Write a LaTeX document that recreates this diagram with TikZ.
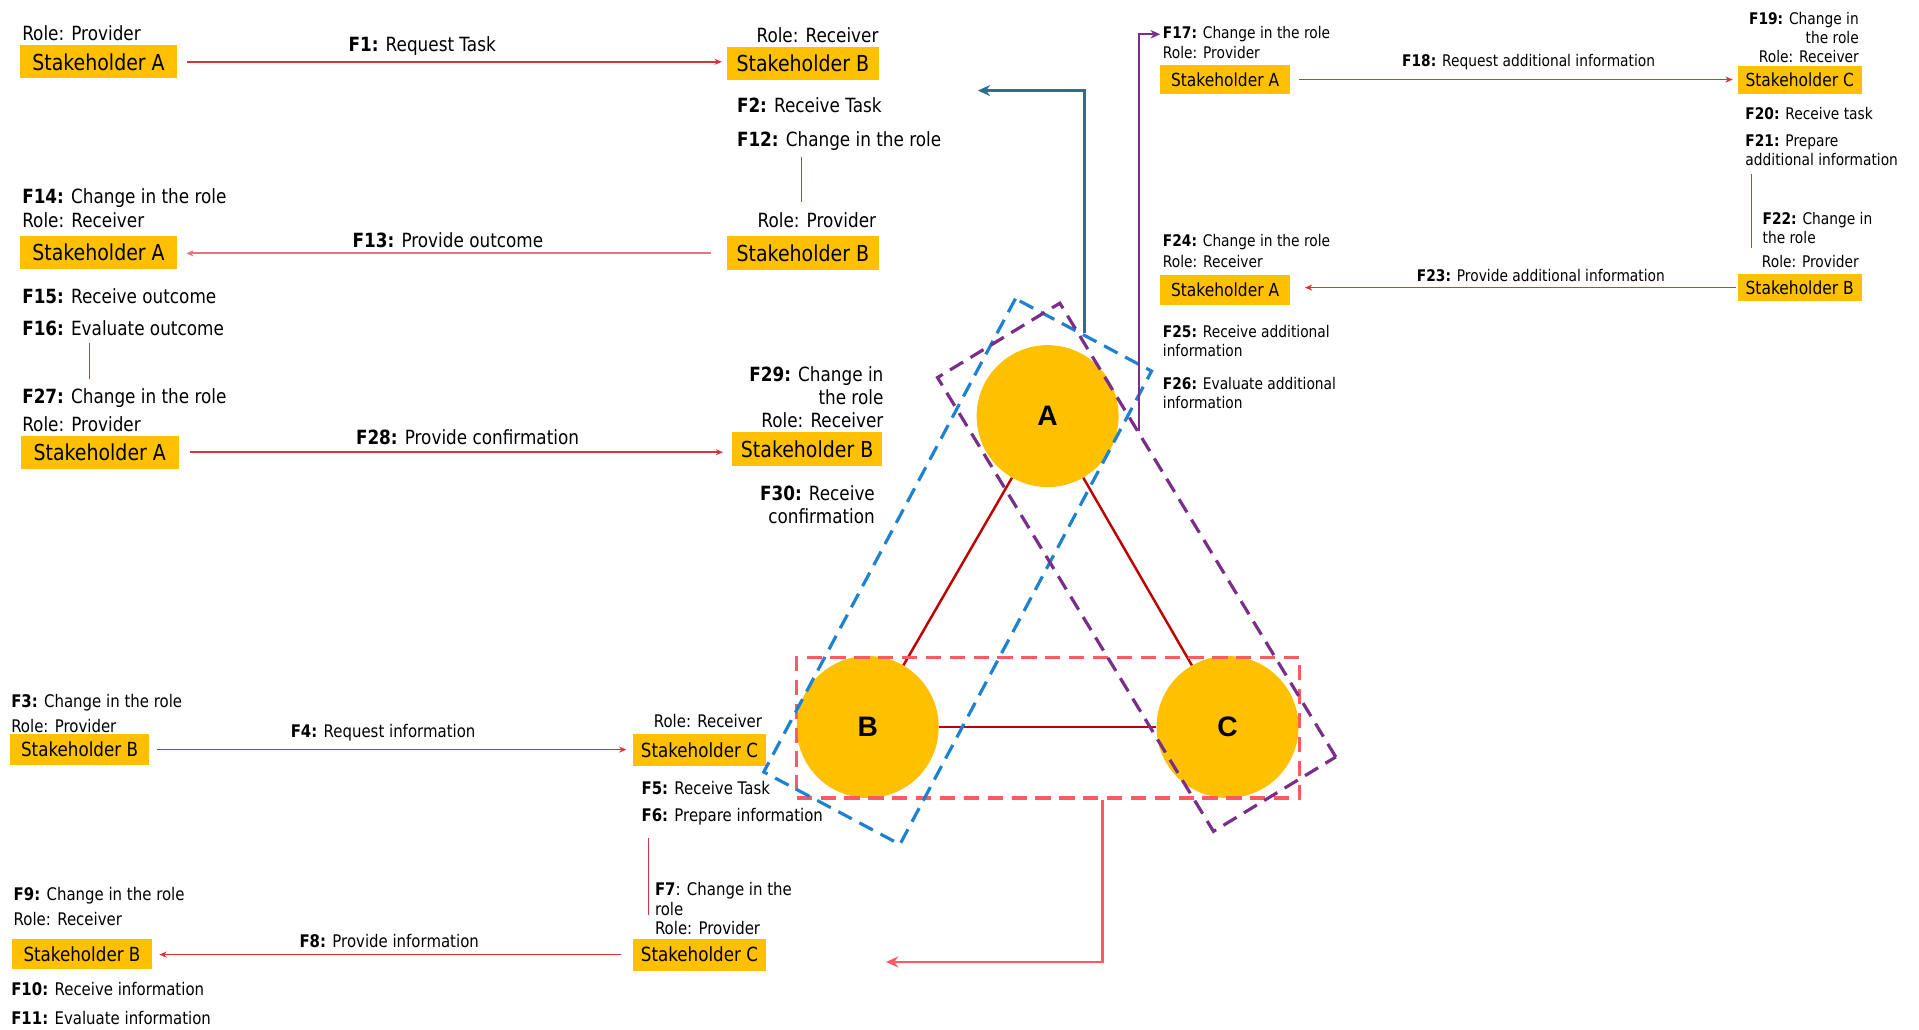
\documentclass[tikz,border=0pt]{standalone}
\usepackage{fontspec}
\setmainfont{DejaVu Sans}[FakeStretch=0.86]
\newfontfamily\letterfont{Liberation Sans}
\usetikzlibrary{arrows.meta,calc}
\definecolor{ybox}{HTML}{FFC000}
\definecolor{farr}{HTML}{D9343C}
\definecolor{farrlight}{HTML}{E6767C}
\definecolor{trired}{HTML}{C00000}
\definecolor{grpred}{HTML}{FF5A5F}
\definecolor{grpblue}{HTML}{1F82CF}
\definecolor{grppurple}{HTML}{7A2E8A}
\definecolor{tealc}{HTML}{2C6E8E}
\begin{document}
\begin{tikzpicture}[x=1pt,y=-1pt,
  sbox/.style={fill=ybox, inner sep=0pt, text=black},
  boxL/.style={sbox, minimum width=129pt, minimum height=27pt, font=\fontsize{18}{20}\selectfont},
  boxM/.style={sbox, minimum width=114pt, minimum height=25pt, font=\fontsize{15.9}{18}\selectfont},
  boxS/.style={sbox, minimum width=104pt, minimum height=23pt, font=\fontsize{14.7}{17}\selectfont},
  txtL/.style={inner sep=0pt, font=\fontsize{16}{18.7}\selectfont},
  txtM/.style={inner sep=0pt, font=\fontsize{14.2}{17}\selectfont},
  txtS/.style={inner sep=0pt, font=\fontsize{13.1}{15.5}\selectfont},
  farrow/.style={draw=farr, line width=1.4pt, -{Stealth[length=6pt,width=5pt]}},
  vlink/.style={draw=farr, line width=1.2pt},
  circ/.style={circle, fill=ybox, minimum size=116pt, inner sep=0pt, font=\letterfont\bfseries\fontsize{23}{23}\selectfont},
  triline/.style={draw=trired, line width=2pt},
  grp/.style={draw, line width=2.6pt, dash pattern=on 12.5pt off 7pt, inner sep=0pt},
]
\useasboundingbox (0,0) rectangle (1568,841);

% ---------- top-left: A -> B ----------
\node[txtL, anchor=west] (rp1) at (18,27) {Role: Provider};
\node[boxL] (sA1) at (80.5,50.5) {Stakeholder A};
\node[txtL] (lf1) at (345,38) {\textbf{F1:} Request Task};
\node[txtL, anchor=east] (rr1) at (718,29) {Role: Receiver};
\node[boxL, minimum width=124pt] (sB1) at (656,51.5) {Stakeholder B};
\draw[farrow, shorten <=8pt, shorten >=4pt] (sA1.east) -- (sA1.east -| sB1.west);
\node[txtL, anchor=west] (f2) at (602,86) {\textbf{F2:} Receive Task};
\node[txtL, anchor=west] (f12) at (602,115) {\textbf{F12:} Change in the role};
\coordinate (v1a) at (655,128); \coordinate (v1b) at (655,165);
\draw[vlink] (v1a) -- (v1b);
\node[txtL, anchor=east] (rp2) at (716,180) {Role: Provider};
\node[boxL, minimum width=124pt, minimum height=28pt] (sB2) at (656,207) {Stakeholder B};
\node[txtL] (lf13) at (366,196) {\textbf{F13:} Provide outcome};
\node[txtL, anchor=west] (f14) at (18,162) {\textbf{F14:} Change in the role};
\node[txtL, anchor=west] (rr2) at (18,180) {Role: Receiver};
\node[boxL] (sA2) at (80.5,206.5) {Stakeholder A};
\draw[farrow, draw=farrlight, shorten <=13pt, shorten >=7pt] (sB2.west) -- (sB2.west -| sA2.east);
\node[txtL, anchor=west] (f15) at (18,242) {\textbf{F15:} Receive outcome};
\node[txtL, anchor=west] (f16) at (18,268) {\textbf{F16:} Evaluate outcome};
\coordinate (v2a) at (73,280); \coordinate (v2b) at (73,310);
\draw[vlink] (v2a) -- (v2b);
\node[txtL, anchor=west] (f27) at (18,325) {\textbf{F27:} Change in the role};
\node[txtL, anchor=west] (rp3) at (18,347) {Role: Provider};
\node[boxL] (sA3) at (81.5,369.5) {Stakeholder A};
\node[txtL] (lf28) at (382,357) {\textbf{F28:} Provide confirmation};
\node[txtL, anchor=east, align=right] (f29) at (722,324.5) {\textbf{F29:} Change in\\the role\\Role: Receiver};
\node[boxL, minimum width=123pt, minimum height=28pt] (sB3) at (659.5,367) {Stakeholder B};
\draw[farrow, shorten <=9pt, shorten >=7pt] (sA3.east) -- (sA3.east -| sB3.west);
\node[txtL, anchor=east, align=right] (f30) at (715,412.5) {\textbf{F30:} Receive\\confirmation};

% ---------- middle-left: B -> C ----------
\node[txtM, anchor=west] (f3) at (9,574) {\textbf{F3:} Change in the role};
\node[txtM, anchor=west] (rp4) at (9,593) {Role: Provider};
\node[boxM] (sB4) at (65,612.5) {Stakeholder B};
\node[txtM] (lf4) at (313,599) {\textbf{F4:} Request information};
\node[txtM, anchor=west] (rr3) at (534,589) {Role: Receiver};
\node[boxM, minimum width=109pt, minimum height=26pt] (sC1) at (571.5,613) {Stakeholder C};
\draw[farrow, shorten <=6pt, shorten >=5pt] (sB4.east) -- (sB4.east -| sC1.west);
\node[txtM, anchor=west] (f5) at (524,644) {\textbf{F5:} Receive Task};
\node[txtM, anchor=west] (f6) at (524,667) {\textbf{F6:} Prepare information};
\coordinate (v3a) at (530,685); \coordinate (v3b) at (530,748);
\draw[vlink] (v3a) -- (v3b);
\node[txtM, anchor=west, align=left] (f7) at (535,734.5) {\textbf{F7}: Change in the\\role};
\node[txtM, anchor=west] (rp5) at (535,758) {Role: Provider};
\node[boxM, minimum width=109pt, minimum height=26pt] (sC2) at (571.5,780) {Stakeholder C};
\node[txtM] (lf8) at (318,769) {\textbf{F8:} Provide information};
\node[txtM, anchor=west] (f9) at (11,732) {\textbf{F9:} Change in the role};
\node[txtM, anchor=west] (rr4) at (11,751) {Role: Receiver};
\node[boxM] (sB5) at (67,779.5) {Stakeholder B};
\draw[farrow, shorten <=9pt, shorten >=6pt] (sC2.west) -- (sC2.west -| sB5.east);
\node[txtM, anchor=west] (f10) at (9,808) {\textbf{F10:} Receive information};
\node[txtM, anchor=west] (f11) at (9,832) {\textbf{F11:} Evaluate information};

% ---------- right: A -> C ----------
\node[txtS, anchor=west] (f17) at (950,28) {\textbf{F17:} Change in the role};
\node[txtS, anchor=west] (rp6) at (950,43) {Role: Provider};
\node[boxS, minimum width=106pt, minimum height=24pt] (sA4) at (1001,65) {Stakeholder A};
\node[txtS] (lf18) at (1249,51) {\textbf{F18:} Request additional information};
\node[txtS, anchor=east, align=right] (f19) at (1519,30.5) {\textbf{F19:} Change in\\the role\\Role: Receiver};
\node[boxS, minimum width=101pt, minimum height=23pt] (sC3) at (1470.5,65.5) {Stakeholder C};
\draw[farrow, shorten <=7pt, shorten >=4pt] (sA4.east) -- (sA4.east -| sC3.west);
\node[txtS, anchor=west] (f20) at (1426,93) {\textbf{F20:} Receive task};
\node[txtS, anchor=west, align=left] (f21) at (1426,123) {\textbf{F21:} Prepare\\additional information};
\coordinate (v4a) at (1431,142); \coordinate (v4b) at (1431,203);
\draw[vlink] (v4a) -- (v4b);
\node[txtS, anchor=west, align=left] (f22) at (1440,186.5) {\textbf{F22:} Change in\\the role};
\node[txtS, anchor=east] (rp7) at (1519,214) {Role: Provider};
\node[boxS, minimum width=101pt, minimum height=22pt] (sB6) at (1470.5,235) {Stakeholder B};
\node[txtS] (lf23) at (1259,225) {\textbf{F23:} Provide additional information};
\node[txtS, anchor=west] (f24) at (950,198) {\textbf{F24:} Change in the role};
\node[txtS, anchor=west] (rr5) at (950,214) {Role: Receiver};
\node[boxS, minimum width=106pt, minimum height=24pt] (sA5) at (1001,237) {Stakeholder A};
\draw[farrow, shorten <=1pt, shorten >=12pt] (sB6.west) -- (sB6.west -| sA5.east);
\node[txtS, anchor=west, align=left] (f25) at (950,279) {\textbf{F25:} Receive additional\\information};
\node[txtS, anchor=west, align=left] (f26) at (950,321.5) {\textbf{F26:} Evaluate additional\\information};

% ---------- triangle ----------
\node[circ] (cA) at (856,340) {A};
\node[circ] (cB) at (709,594) {B};
\node[circ] (cC) at (1003,594) {C};
\draw[triline] (cA) -- (cB);
\draw[triline] (cA) -- (cC);
\draw[triline, line width=2.4pt] (cB) -- (cC);

\node[grp, draw=grpred, minimum width=411pt, minimum height=115pt] (grpBC) at (856.5,594.5) {};
\node[grp, draw=grpblue, minimum width=438pt, minimum height=126pt, rotate=62] (grpAB) at (782.5,467) {};
\node[grp, draw=grppurple, minimum width=434pt, minimum height=117pt, rotate=-58.7] (grpAC) at (928.75,463.5) {};

% ---------- group connectors ----------
\coordinate (tealEnd) at (799,74);
\draw[draw=tealc, line width=2.2pt, -{Stealth[length=10pt,width=9pt]}] (grpAB.east) |- (tealEnd);
\coordinate (purpStart) at ($(grpAC.north west)!0.284!(grpAC.north east)$);
\draw[draw=grppurple, line width=2pt, shorten >=2pt, -{Stealth[length=8pt,width=7pt]}] (purpStart) |- (f17.west);
\coordinate (redEnd) at (724,786);
\draw[draw=grpred, line width=2.2pt, -{Stealth[length=10pt,width=9pt]}] ([xshift=44.5pt]grpBC.south) |- (redEnd);
\end{tikzpicture}
\end{document}
